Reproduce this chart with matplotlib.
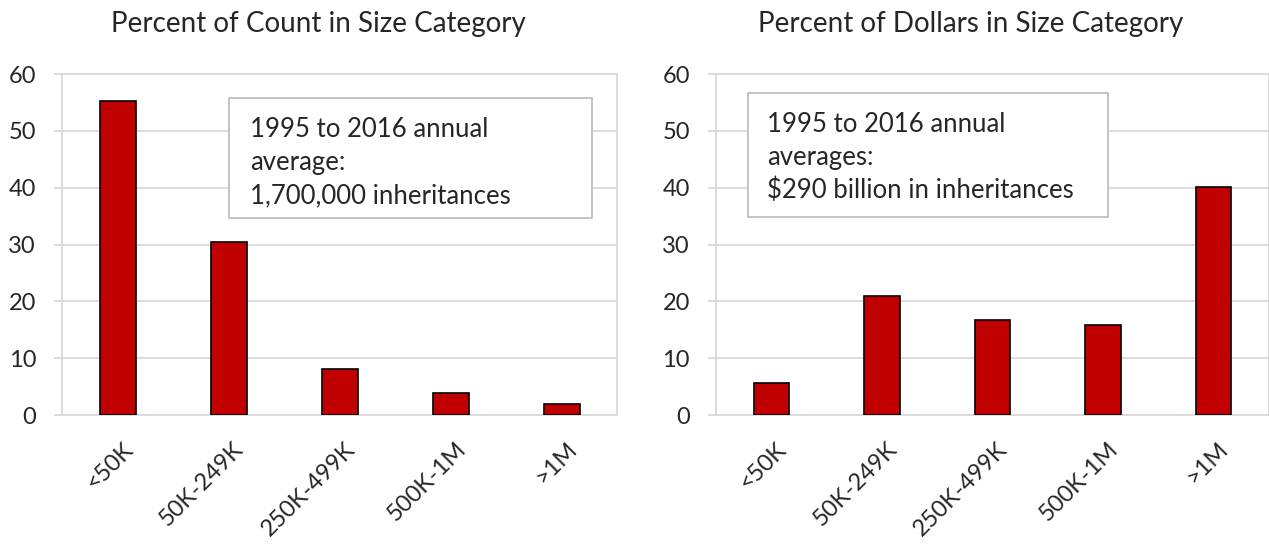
import matplotlib
matplotlib.use("Agg")
import matplotlib.pyplot as plt
import matplotlib.transforms as mtransforms
from matplotlib.patches import Rectangle

# data
categories = ["<50K", "50K-249K", "250K-499K", "500K-1M", ">1M"]
pct_count = [55.3, 30.4, 8.1, 3.9, 2.0]
pct_dollars = [5.6, 21.0, 16.7, 15.8, 40.2]
titles = ["Percent of Count in Size Category", "Percent of Dollars in Size Category"]
notes = [["1995 to 2016 annual", "average:", "1,700,000 inheritances"],
         ["1995 to 2016 annual", "averages:", "$290 billion in inheritances"]]
yticks = [0, 10, 20, 30, 40, 50, 60]

plt.rcParams['font.family'] = ['Lato', 'DejaVu Sans']

BAR = "#C00000"
GRID = "#D9D9D9"
TXT = "#262626"

fig = plt.figure(figsize=(12.69, 5.44), dpi=100)

ax_pos = [[0.0492, 0.2371, 0.4374, 0.6268],
          [0.5644, 0.2371, 0.4354, 0.6268]]
# note box (x, y, w, h) in axes fraction
box_pos = [(0.300, 0.578, 0.654, 0.352),
           (0.0575, 0.581, 0.6515, 0.3637)]
text_x = [0.338, 0.0923]
first_base = [0.8152, 0.8299]
line_step = 0.0968
title_x = [0.251, 0.765]

for i, vals in enumerate([pct_count, pct_dollars]):
    ax = fig.add_axes(ax_pos[i])
    x = range(len(categories))
    ax.bar(x, vals, width=0.325, color=BAR, edgecolor="black", linewidth=1.2, zorder=3)
    ax.set_xlim(-0.5, len(categories) - 0.5)
    ax.set_ylim(0, 60)
    ax.set_yticks(yticks)
    ax.yaxis.grid(True, color=GRID, linewidth=1.3, zorder=0)
    ax.set_xticks(list(x))
    ax.set_xticklabels(categories, rotation=45, ha="right", va="top", rotation_mode="anchor")
    ax.tick_params(axis="both", labelsize=17, colors=TXT)
    ax.tick_params(axis="x", length=0, pad=17)
    ax.tick_params(axis="y", length=6, width=1.3, color=GRID, pad=13)
    # nudge the rotated labels a bit to the right, like Excel does
    offset = mtransforms.ScaledTranslation(4 / 100, 0, fig.dpi_scale_trans)
    for lab in ax.get_xticklabels():
        lab.set_transform(lab.get_transform() + offset)
    for s in ax.spines.values():
        s.set_color(GRID)
        s.set_linewidth(1.3)

    bx, by, bw, bh = box_pos[i]
    ax.add_patch(Rectangle((bx, by), bw, bh, transform=ax.transAxes,
                           facecolor="white", edgecolor="#BFBFBF", linewidth=1.3, zorder=4))
    for k, line in enumerate(notes[i]):
        ax.text(text_x[i], first_base[i] - k * line_step, line, transform=ax.transAxes,
                ha="left", va="baseline", fontsize=18.5, color=TXT, zorder=5)

    fig.text(title_x[i], 1 - 32 / 544, titles[i], ha="center", va="baseline",
             fontsize=20, color=TXT)

fig.savefig("out.png", dpi=100, facecolor="white")
